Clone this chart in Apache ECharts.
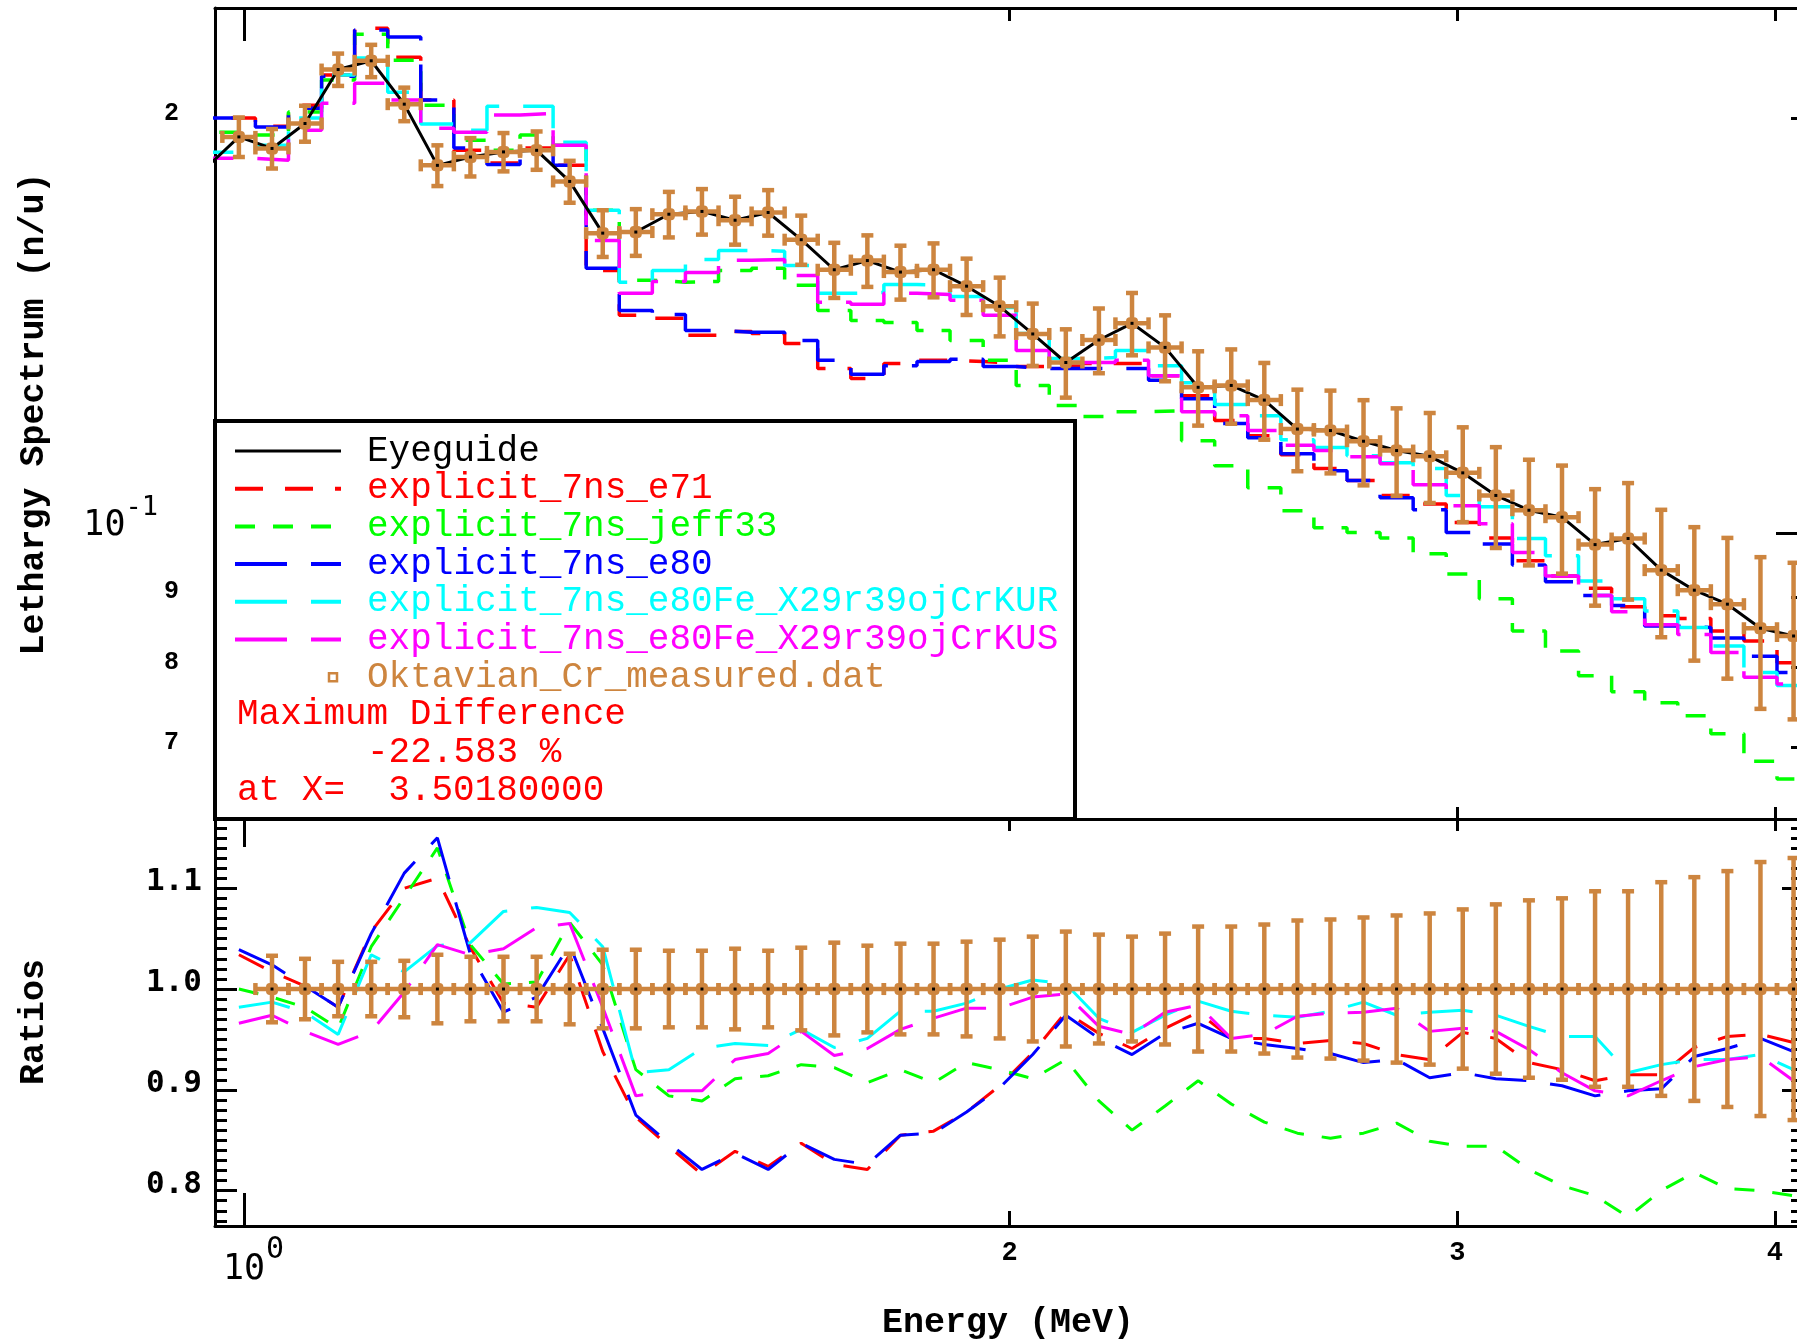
<!DOCTYPE html>
<html>
<head>
<meta charset="utf-8">
<script src="https://cdn.jsdelivr.net/npm/echarts@6/dist/echarts.min.js"></script>
<style>
html,body{margin:0;padding:0;background:#ffffff;}
#chart{width:1797px;height:1343px;}
</style>
</head>
<body>
<div id="chart"></div>
<script>
// Measured energy bin centres (MeV) and bin boundaries
const energy = [0.9953, 1.0256, 1.0567, 1.0889, 1.1220, 1.1561, 1.1913, 1.2275, 1.2648, 1.3033, 1.3429, 1.3837,
  1.4258, 1.4691, 1.5138, 1.5599, 1.6073, 1.6562, 1.7065, 1.7584, 1.8119, 1.8670, 1.9237, 1.9822,
  2.0425, 2.1046, 2.1686, 2.2346, 2.3025, 2.3725, 2.4447, 2.5190, 2.5956, 2.6745, 2.7558, 2.8396,
  2.9260, 3.0149, 3.1066, 3.2011, 3.2984, 3.3987, 3.5018, 3.6086, 3.7183, 3.8313, 3.9478, 4.0679];
const binEdges = [0.9805, 1.0103, 1.0410, 1.0727, 1.1053, 1.1389, 1.1735, 1.2092, 1.2460, 1.2839, 1.3229, 1.3631,
  1.4046, 1.4473, 1.4913, 1.5367, 1.5834, 1.6315, 1.6811, 1.7323, 1.7849, 1.8392, 1.8951, 1.9528,
  2.0121, 2.0733, 2.1364, 2.2013, 2.2683, 2.3372, 2.4083, 2.4815, 2.5570, 2.6347, 2.7149, 2.7974,
  2.8825, 2.9701, 3.0604, 3.1535, 3.2494, 3.3482, 3.4500, 3.5549, 3.6630, 3.7744, 3.8891, 4.0074, 4.1293];

// Oktavian Cr measurement: lethargy spectrum (n/u) and relative uncertainty
const measured = [0.1940, 0.1903, 0.1984, 0.2171, 0.2203, 0.2049, 0.1850, 0.1876, 0.1892, 0.1897, 0.1801, 0.1652,
  0.1655, 0.1705, 0.1713, 0.1688, 0.1710, 0.1634, 0.1554, 0.1578, 0.1548, 0.1554, 0.1512, 0.1462,
  0.1396, 0.1331, 0.1382, 0.1421, 0.1365, 0.1277, 0.1281, 0.1250, 0.1191, 0.1188, 0.1167, 0.1149,
  0.1138, 0.1107, 0.1066, 0.1040, 0.1028, 0.0982, 0.0992, 0.0941, 0.0910, 0.0889, 0.0854, 0.0843];
const relErr = [0.033, 0.033, 0.030, 0.027, 0.027, 0.028, 0.034, 0.032, 0.032, 0.032, 0.035, 0.039,
  0.039, 0.038, 0.038, 0.040, 0.038, 0.041, 0.046, 0.043, 0.045, 0.045, 0.047, 0.049,
  0.052, 0.057, 0.054, 0.052, 0.055, 0.062, 0.062, 0.064, 0.068, 0.069, 0.071, 0.073,
  0.075, 0.079, 0.084, 0.088, 0.090, 0.097, 0.097, 0.106, 0.111, 0.117, 0.126, 0.130];
// eyeguide starts just left of the plotted range
const eyeguideLead = [0.9653, 0.1840];

// Calculated spectra, one value per measured bin
const calcE71 = [0.2002, 0.1975, 0.2045, 0.2151, 0.2326, 0.2216, 0.2063, 0.1897, 0.1857, 0.1904, 0.1850, 0.1552,
  0.1440, 0.1433, 0.1393, 0.1402, 0.1397, 0.1374, 0.1318, 0.1296, 0.1329, 0.1336, 0.1333, 0.1329,
  0.1322, 0.1324, 0.1329, 0.1329, 0.1302, 0.1259, 0.1208, 0.1178, 0.1141, 0.1115, 0.1093, 0.1066,
  0.1051, 0.1019, 0.0993, 0.0956, 0.0932, 0.0913, 0.0885, 0.0872, 0.0868, 0.0850, 0.0836, 0.0806];
const calcJeff33 = [0.1955, 0.1946, 0.2022, 0.2133, 0.2303, 0.2205, 0.2045, 0.1929, 0.1897, 0.1946, 0.1913, 0.1716,
  0.1527, 0.1522, 0.1524, 0.1552, 0.1558, 0.1514, 0.1452, 0.1428, 0.1423, 0.1404, 0.1381, 0.1336,
  0.1281, 0.1239, 0.1216, 0.1226, 0.1228, 0.1168, 0.1120, 0.1080, 0.1039, 0.1010, 0.1002, 0.0993,
  0.0967, 0.0935, 0.0897, 0.0850, 0.0822, 0.0789, 0.0768, 0.0754, 0.0738, 0.0716, 0.0684, 0.0664];
const calcE80 = [0.2002, 0.1972, 0.2035, 0.2147, 0.2319, 0.2292, 0.2063, 0.1904, 0.1853, 0.1897, 0.1850, 0.1558,
  0.1452, 0.1442, 0.1404, 0.1400, 0.1400, 0.1381, 0.1336, 0.1305, 0.1324, 0.1333, 0.1338, 0.1322,
  0.1318, 0.1318, 0.1318, 0.1318, 0.1292, 0.1253, 0.1202, 0.1174, 0.1143, 0.1111, 0.1093, 0.1062,
  0.1041, 0.1002, 0.0983, 0.0949, 0.0923, 0.0902, 0.0887, 0.0857, 0.0855, 0.0840, 0.0815, 0.0793];
const calcKUR = [0.1891, 0.1913, 0.2002, 0.2151, 0.2213, 0.2090, 0.1982, 0.1962, 0.2042, 0.2042, 0.1923, 0.1716,
  0.1522, 0.1552, 0.1581, 0.1605, 0.1603, 0.1565, 0.1494, 0.1496, 0.1516, 0.1514, 0.1486, 0.1459,
  0.1397, 0.1340, 0.1342, 0.1358, 0.1324, 0.1287, 0.1241, 0.1218, 0.1170, 0.1155, 0.1139, 0.1126,
  0.1115, 0.1066, 0.1046, 0.0992, 0.0964, 0.0924, 0.0897, 0.0879, 0.0855, 0.0829, 0.0793, 0.0776];
const calcKUS = [0.1872, 0.1866, 0.1962, 0.2052, 0.2122, 0.2063, 0.1968, 0.1955, 0.2012, 0.2018, 0.1913, 0.1632,
  0.1494, 0.1524, 0.1547, 0.1579, 0.1581, 0.1539, 0.1472, 0.1467, 0.1494, 0.1491, 0.1477, 0.1440,
  0.1358, 0.1331, 0.1331, 0.1336, 0.1302, 0.1226, 0.1218, 0.1188, 0.1159, 0.1149, 0.1137, 0.1124,
  0.1085, 0.1048, 0.1017, 0.0969, 0.0932, 0.0902, 0.0878, 0.0859, 0.0845, 0.0820, 0.0787, 0.0778];

// Calculation / experiment ratios at the bin centres
const ratioE71 = [1.034, 1.017, 1.003, 0.982, 1.057, 1.100, 1.110, 1.041, 0.986, 0.982, 1.034, 0.938,
  0.873, 0.844, 0.816, 0.839, 0.824, 0.847, 0.826, 0.821, 0.855, 0.859, 0.878, 0.904,
  0.937, 0.977, 0.956, 0.941, 0.961, 0.977, 0.951, 0.951, 0.946, 0.949, 0.946, 0.935,
  0.930, 0.957, 0.951, 0.927, 0.920, 0.909, 0.915, 0.915, 0.942, 0.953, 0.955, 0.947];
const ratioJeff33 = [1.000, 0.992, 0.982, 0.961, 1.042, 1.091, 1.140, 1.044, 1.005, 1.007, 1.066, 1.024,
  0.920, 0.894, 0.889, 0.911, 0.914, 0.925, 0.922, 0.907, 0.920, 0.907, 0.927, 0.920,
  0.911, 0.930, 0.889, 0.860, 0.884, 0.909, 0.886, 0.868, 0.857, 0.852, 0.857, 0.867,
  0.849, 0.844, 0.844, 0.821, 0.805, 0.795, 0.774, 0.800, 0.818, 0.802, 0.800, 0.795];
const ratioE80 = [1.039, 1.024, 1.003, 0.982, 1.055, 1.115, 1.150, 1.034, 0.977, 0.992, 1.044, 0.961,
  0.875, 0.847, 0.821, 0.837, 0.821, 0.847, 0.831, 0.826, 0.855, 0.857, 0.878, 0.902,
  0.935, 0.974, 0.951, 0.935, 0.956, 0.966, 0.951, 0.945, 0.941, 0.936, 0.927, 0.930,
  0.912, 0.917, 0.911, 0.909, 0.904, 0.894, 0.899, 0.901, 0.933, 0.941, 0.951, 0.938];
const ratioKUR = [0.982, 0.987, 0.977, 0.955, 1.034, 1.017, 1.043, 1.046, 1.077, 1.081, 1.076, 1.042,
  0.917, 0.920, 0.941, 0.946, 0.944, 0.960, 0.942, 0.951, 0.978, 0.978, 0.986, 1.000,
  1.009, 1.005, 0.971, 0.957, 0.974, 0.988, 0.978, 0.974, 0.972, 0.978, 0.987, 0.974,
  0.977, 0.979, 0.974, 0.963, 0.953, 0.953, 0.917, 0.925, 0.930, 0.930, 0.935, 0.920];
const ratioKUS = [0.966, 0.974, 0.958, 0.945, 0.958, 0.997, 1.044, 1.034, 1.040, 1.061, 1.065, 0.982,
  0.894, 0.899, 0.899, 0.930, 0.936, 0.958, 0.934, 0.941, 0.960, 0.971, 0.981, 0.981,
  0.992, 0.995, 0.963, 0.955, 0.977, 0.984, 0.951, 0.955, 0.973, 0.976, 0.977, 0.981,
  0.958, 0.961, 0.958, 0.940, 0.917, 0.899, 0.894, 0.909, 0.923, 0.930, 0.933, 0.909];

// Axis ticks
const xTicks = [2, 3, 4];
const xDecade = [1];
const topYLabels = [0.07, 0.08, 0.09, 0.1, 0.2];
const topYMinor = [0.07, 0.08, 0.09, 0.2];
const topYMajor = [0.1];
const ratioTicks = [0.8, 0.9, 1.0, 1.1];

const X_MIN = 0.974, X_MAX = 4.088;
const Y_MIN = 0.0621, Y_MAX = 0.2406;
const R_MIN = 0.7649, R_MAX = 1.1687;

const BROWN = '#cd853f';
const C_RED = '#ff0000', C_GREEN = '#00ff00', C_BLUE = '#0000ff', C_CYAN = '#00ffff', C_MAG = '#ff00ff';
const MONO = "'Liberation Mono', 'DejaVu Sans Mono', monospace";
const SMONO = "'DejaVu Sans Mono', 'Liberation Mono', monospace";

const ratioMinor = [];
for (let i = 77; i <= 116; i++) ratioMinor.push(i / 100);

const chart = echarts.init(document.getElementById('chart'), null, { renderer: 'canvas' });

const TICK_STYLE = { color: '#000', width: 3 };
const LINE_ON = { show: true, onZero: false, lineStyle: { color: '#000', width: 3 } };
const LINE_OFF = { show: false, onZero: false };

function xAxisDef(grid, pos, ticks, len, showLine, label) {
  return {
    type: 'log', logBase: 10, gridIndex: grid, position: pos, min: X_MIN, max: X_MAX,
    axisLine: showLine ? LINE_ON : LINE_OFF,
    axisTick: { show: true, inside: true, length: len, customValues: ticks, lineStyle: TICK_STYLE },
    axisLabel: label || { show: false },
    splitLine: { show: false }, minorTick: { show: false }, minorSplitLine: { show: false }
  };
}
function yAxisDef(grid, pos, type, min, max, ticks, len, showLine, label) {
  const a = {
    type: type, gridIndex: grid, position: pos, min: min, max: max,
    axisLine: showLine ? LINE_ON : LINE_OFF,
    axisTick: ticks ? { show: true, inside: true, length: len, customValues: ticks, lineStyle: TICK_STYLE } : { show: false },
    axisLabel: label || { show: false },
    splitLine: { show: false }, minorTick: { show: false }, minorSplitLine: { show: false }
  };
  if (type === 'log') a.logBase = 10;
  return a;
}

const xLabel = {
  show: true, customValues: xTicks, margin: 11, color: '#000',
  formatter: function (v) { return '{d|' + Math.round(v) + '}'; },
  rich: {
    d: { fontFamily: MONO, fontWeight: 'bold', fontSize: 27, lineHeight: 27, color: '#000', verticalAlign: 'middle', padding: [5, 0, 0, 0] }
  }
};
const topYLabel = {
  show: true, customValues: topYLabels, margin: 36, color: '#000', align: 'right',
  formatter: function (v) {
    if (Math.abs(v - 0.1) < 1e-9) return '{a|10}{s|-1}';
    const p = Math.pow(10, Math.floor(Math.log10(v) + 1e-9));
    return '{d|' + Math.round(v / p) + '}';
  },
  rich: {
    a: { fontFamily: SMONO, fontSize: 35, lineHeight: 36, color: '#000', verticalAlign: 'middle', padding: [0, 0, 16, 0] },
    s: { fontFamily: SMONO, fontSize: 27, lineHeight: 27, color: '#000', verticalAlign: 'middle', padding: [0, 21, 52, 0] },
    d: { fontFamily: MONO, fontWeight: 'bold', fontSize: 25, lineHeight: 25, color: '#000', verticalAlign: 'middle', padding: [0, 0, 10, 0] }
  }
};
const ratioLabel = {
  show: true, customValues: ratioTicks, margin: 13, color: '#000', align: 'right',
  formatter: function (v) { return '{d|' + v.toFixed(1) + '}'; },
  rich: {
    d: { fontFamily: SMONO, fontWeight: 'bold', fontSize: 31, lineHeight: 31, color: '#000', verticalAlign: 'middle', padding: [0, 0, 12, 0] }
  }
};

function stepData(vals) {
  const d = [[X_MIN * 0.97, vals[0]]];
  for (let k = 0; k < vals.length; k++) {
    d.push([binEdges[k], vals[k]]);
    d.push([binEdges[k + 1], vals[k]]);
  }
  return d;
}
function pairData(vals) {
  return energy.map(function (e, i) { return [e, vals[i]]; });
}

function errorBarItem(params, api) {
  const E = api.value(0), v = api.value(1), lo = api.value(2), hi = api.value(3);
  const eL = api.value(4), eR = api.value(5);
  const c = api.coord([E, v]);
  const pl = api.coord([eL, v]), pr = api.coord([eR, v]);
  const pt = api.coord([E, hi]), pb = api.coord([E, lo]);
  const st = { stroke: BROWN, lineWidth: 4.5 };
  const cap = 6;
  return {
    type: 'group',
    children: [
      { type: 'line', shape: { x1: pl[0], y1: c[1], x2: pr[0], y2: c[1] }, style: st },
      { type: 'line', shape: { x1: c[0], y1: pt[1], x2: c[0], y2: pb[1] }, style: st },
      { type: 'line', shape: { x1: c[0] - cap, y1: pt[1], x2: c[0] + cap, y2: pt[1] }, style: st },
      { type: 'line', shape: { x1: c[0] - cap, y1: pb[1], x2: c[0] + cap, y2: pb[1] }, style: st },
      { type: 'line', shape: { x1: pl[0], y1: c[1] - cap, x2: pl[0], y2: c[1] + cap }, style: st },
      { type: 'line', shape: { x1: pr[0], y1: c[1] - cap, x2: pr[0], y2: c[1] + cap }, style: st },
      { type: 'rect', shape: { x: c[0] - 6, y: c[1] - 6, width: 12, height: 12, r: 4 }, style: { fill: BROWN } },
      { type: 'rect', shape: { x: c[0] - 1.5, y: c[1] - 1.5, width: 3, height: 3 }, style: { fill: '#000' } }
    ]
  };
}

const measTop = measured.map(function (v, i) {
  return [energy[i], v, v * (1 - relErr[i]), v * (1 + relErr[i]), binEdges[i], binEdges[i + 1]];
});
const measRatio = [];
for (let i = 1; i < measured.length; i++) {
  measRatio.push([energy[i], 1, 1 - relErr[i], 1 + relErr[i], binEdges[i], binEdges[i + 1]]);
}
const eyeguide = [eyeguideLead].concat(pairData(measured));

const DASH_RED = [28, 22], DASH_GREEN = [20, 18], DASH_LONG = [52, 24];
const calcDefs = [
  { name: 'explicit_7ns_e71', color: C_RED, dash: DASH_RED, top: calcE71, ratio: ratioE71 },
  { name: 'explicit_7ns_jeff33', color: C_GREEN, dash: DASH_GREEN, top: calcJeff33, ratio: ratioJeff33 },
  { name: 'explicit_7ns_e80', color: C_BLUE, dash: DASH_LONG, top: calcE80, ratio: ratioE80 },
  { name: 'explicit_7ns_e80Fe_X29r39ojCrKUR', color: C_CYAN, dash: DASH_LONG, top: calcKUR, ratio: ratioKUR },
  { name: 'explicit_7ns_e80Fe_X29r39ojCrKUS', color: C_MAG, dash: DASH_LONG, top: calcKUS, ratio: ratioKUS }
];

const series = [];
calcDefs.forEach(function (c) {
  series.push({
    name: c.name, type: 'line', xAxisIndex: 0, yAxisIndex: 0, data: stepData(c.top),
    symbol: 'none', clip: true, silent: true,
    lineStyle: { color: c.color, width: 3.5, type: c.dash }, z: 2
  });
});
series.push({
  name: 'Eyeguide', type: 'line', xAxisIndex: 0, yAxisIndex: 0, data: eyeguide,
  symbol: 'none', clip: true, silent: true, lineStyle: { color: '#000', width: 3 }, z: 3
});
series.push({
  name: 'Oktavian_Cr_measured.dat', type: 'custom', xAxisIndex: 0, yAxisIndex: 0,
  data: measTop, renderItem: errorBarItem, clip: true, encode: { x: 0, y: 1 }, z: 4, silent: true
});
calcDefs.forEach(function (c) {
  series.push({
    name: c.name + ' ratio', type: 'line', xAxisIndex: 3, yAxisIndex: 3, data: pairData(c.ratio),
    symbol: 'none', clip: true, silent: true,
    lineStyle: { color: c.color, width: 3, type: c.dash }, z: 2
  });
});
series.push({
  name: 'measured ratio', type: 'custom', xAxisIndex: 3, yAxisIndex: 3,
  data: measRatio, renderItem: errorBarItem, clip: true, encode: { x: 0, y: 1 }, z: 4, silent: true
});

// Legend box with the comparison summary
const LEG_X = 215, LEG_Y = 421, LEG_W = 860, LEG_H = 398;
const legendRows = [
  { label: 'Eyeguide', color: '#000', line: { color: '#000', dash: null } },
  { label: 'explicit_7ns_e71', color: C_RED, line: { color: C_RED, dash: DASH_RED } },
  { label: 'explicit_7ns_jeff33', color: C_GREEN, line: { color: C_GREEN, dash: DASH_GREEN } },
  { label: 'explicit_7ns_e80', color: C_BLUE, line: { color: C_BLUE, dash: DASH_LONG } },
  { label: 'explicit_7ns_e80Fe_X29r39ojCrKUR', color: C_CYAN, line: { color: C_CYAN, dash: DASH_LONG } },
  { label: 'explicit_7ns_e80Fe_X29r39ojCrKUS', color: C_MAG, line: { color: C_MAG, dash: DASH_LONG } },
  { label: 'Oktavian_Cr_measured.dat', color: BROWN, marker: true }
];
const summaryRows = [
  { text: 'Maximum Difference', x: 237 },
  { text: '-22.583 %', x: 367 },
  { text: 'at X=  3.50180000', x: 237 }
];
const ROW0 = 451, ROW_STEP = 37.7;
const gElems = [{
  type: 'rect', z: 100, shape: { x: LEG_X, y: LEG_Y, width: LEG_W, height: LEG_H },
  style: { fill: '#fff', stroke: '#000', lineWidth: 4 }
}];
legendRows.forEach(function (r, i) {
  const y = ROW0 + i * ROW_STEP;
  if (r.line) {
    gElems.push({
      type: 'line', z: 101, shape: { x1: 235, y1: y, x2: 341, y2: y },
      style: { stroke: r.line.color, lineWidth: r.line.dash ? 4 : 3, lineDash: r.line.dash || null }
    });
  }
  if (r.marker) {
    gElems.push({
      type: 'rect', z: 101, shape: { x: 329, y: y - 4, width: 8, height: 8 },
      style: { fill: '#fff', stroke: BROWN, lineWidth: 2.5 }
    });
  }
  gElems.push({
    type: 'text', z: 101, x: 367, y: y,
    style: { text: r.label, fill: r.color, font: '36px ' + MONO, textVerticalAlign: 'middle', textAlign: 'left' }
  });
});
summaryRows.forEach(function (r, i) {
  gElems.push({
    type: 'text', z: 101, x: r.x, y: ROW0 + (legendRows.length + i) * ROW_STEP,
    style: { text: r.text, fill: C_RED, font: '36px ' + MONO, textVerticalAlign: 'middle', textAlign: 'left' }
  });
});
// Axis titles
gElems.push({
  type: 'text', z: 50, x: 34, y: 414, rotation: Math.PI / 2,
  style: { text: 'Lethargy Spectrum (n/u)', fill: '#000', font: 'bold 35px ' + MONO, textAlign: 'center', textVerticalAlign: 'middle' }
});
gElems.push({
  type: 'text', z: 50, x: 34, y: 1022, rotation: Math.PI / 2,
  style: { text: 'Ratios', fill: '#000', font: 'bold 35px ' + MONO, textAlign: 'center', textVerticalAlign: 'middle' }
});
gElems.push({
  type: 'text', z: 50, x: 1008, y: 1323,
  style: { text: 'Energy (MeV)', fill: '#000', font: 'bold 35px ' + MONO, textAlign: 'center', textVerticalAlign: 'middle' }
});

const option = {
  animation: false,
  backgroundColor: '#ffffff',
  grid: [
    { left: 215, top: 8, right: -2, height: 811, containLabel: false, outerBoundsMode: 'none' },
    { left: 215, top: 819, right: -2, height: 407, containLabel: false, outerBoundsMode: 'none' }
  ],
  xAxis: [
    xAxisDef(0, 'bottom', xTicks, 12, true),            // 0: spectrum panel, bottom
    xAxisDef(0, 'top', xTicks, 13, true),               // 1: spectrum panel, top
    xAxisDef(0, 'top', xDecade, 33, false),             // 2: decade tick, top
    xAxisDef(1, 'bottom', xTicks, 15, true, xLabel),    // 3: ratio panel, bottom with labels
    xAxisDef(1, 'bottom', xDecade, 33, false),          // 4: decade tick, bottom
    xAxisDef(1, 'top', xTicks, 12, true),               // 5: ratio panel, top
    xAxisDef(1, 'top', xDecade, 28, false)              // 6: decade tick, ratio top
  ],
  yAxis: [
    yAxisDef(0, 'left', 'log', Y_MIN, Y_MAX, null, 0, true, topYLabel),
    yAxisDef(0, 'right', 'log', Y_MIN, Y_MAX, topYMajor, 23, true),
    yAxisDef(0, 'right', 'log', Y_MIN, Y_MAX, topYMinor, 8, false),
    yAxisDef(1, 'left', 'value', R_MIN, R_MAX, ratioTicks, 22, true, ratioLabel),
    yAxisDef(1, 'left', 'value', R_MIN, R_MAX, ratioMinor, 12, false),
    yAxisDef(1, 'right', 'value', R_MIN, R_MAX, ratioTicks, 17, true),
    yAxisDef(1, 'right', 'value', R_MIN, R_MAX, ratioMinor, 8, false)
  ],
  series: series,
  graphic: { elements: gElems }
};
chart.setOption(option);

// decade label "10^0" under the first energy tick, placed from the axis scale
const decadePx = chart.convertToPixel({ xAxisIndex: 3 }, xDecade[0]);
gElems.push({
  type: 'text', z: 50, x: decadePx, y: 1270,
  style: { text: '10', fill: '#000', font: '35px ' + SMONO, textAlign: 'center', textVerticalAlign: 'middle' }
});
gElems.push({
  type: 'text', z: 50, x: decadePx + 22, y: 1250,
  style: { text: '0', fill: '#000', font: '30px ' + SMONO, textAlign: 'left', textVerticalAlign: 'middle' }
});
chart.setOption({ graphic: { elements: gElems } });
</script>
</body>
</html>
